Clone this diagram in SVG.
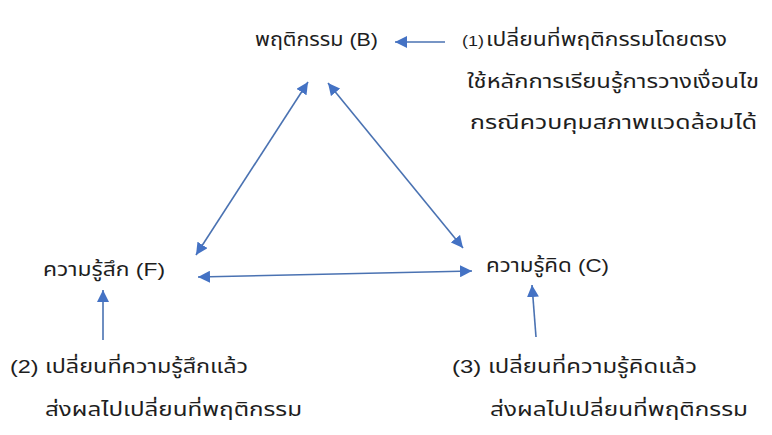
<svg xmlns="http://www.w3.org/2000/svg" width="772" height="435" viewBox="0 0 772 435">
<style>
text{font-family:"Liberation Sans","Noto Sans Thai","DejaVu Sans",sans-serif;fill:#1e1e1e;font-size:19px}
.sm{font-size:14px}
.c{stroke:#4a72b2;stroke-width:1.6;fill:none}
</style>
<defs>
<marker id="a" viewBox="0 0 10 10" refX="10" refY="5" markerWidth="12" markerHeight="12" markerUnits="userSpaceOnUse" orient="auto-start-reverse">
<path d="M0,0 L10,5 L0,10 Z" fill="#4472c4"/>
</marker>
</defs>
<rect width="772" height="435" fill="#fff"/>
<g id="connectors">
<line class="c" x1="196" y1="255" x2="308" y2="82" marker-start="url(#a)" marker-end="url(#a)"/>
<line class="c" x1="328" y1="83" x2="463" y2="248" marker-start="url(#a)" marker-end="url(#a)"/>
<line class="c" x1="198" y1="277" x2="472" y2="271" marker-start="url(#a)" marker-end="url(#a)"/>
<line class="c" x1="445" y1="42" x2="395" y2="42" marker-end="url(#a)"/>
<line class="c" x1="103" y1="340" x2="103" y2="290" marker-end="url(#a)"/>
<line class="c" x1="536" y1="337" x2="532" y2="285" marker-end="url(#a)"/>
</g>
<g id="node-B"><text x="255" y="46" textLength="123" lengthAdjust="spacingAndGlyphs">พฤติกรรม (B)</text></g>
<g id="note-1">
<text x="462" y="46" class="sm" textLength="22" lengthAdjust="spacingAndGlyphs">(1)</text>
<text x="486" y="46" textLength="241" lengthAdjust="spacingAndGlyphs">เปลี่ยนที่พฤติกรรมโดยตรง</text>
<text x="467" y="88" textLength="292" lengthAdjust="spacingAndGlyphs">ใช้หลักการเรียนรู้การวางเงื่อนไข</text>
<text x="470" y="129" textLength="287" lengthAdjust="spacingAndGlyphs">กรณีควบคุมสภาพแวดล้อมได้</text>
</g>
<g id="node-F"><text x="43" y="276" textLength="122" lengthAdjust="spacingAndGlyphs">ความรู้สึก (F)</text></g>
<g id="node-C"><text x="486" y="272" textLength="123" lengthAdjust="spacingAndGlyphs">ความรู้คิด (C)</text></g>
<g id="note-2">
<text x="10" y="373" textLength="238" lengthAdjust="spacingAndGlyphs">(2) เปลี่ยนที่ความรู้สึกแล้ว</text>
<text x="45" y="416" textLength="257" lengthAdjust="spacingAndGlyphs">ส่งผลไปเปลี่ยนที่พฤติกรรม</text>
</g>
<g id="note-3">
<text x="452" y="373" textLength="245" lengthAdjust="spacingAndGlyphs">(3) เปลี่ยนที่ความรู้คิดแล้ว</text>
<text x="490" y="416" textLength="258" lengthAdjust="spacingAndGlyphs">ส่งผลไปเปลี่ยนที่พฤติกรรม</text>
</g>
</svg>
